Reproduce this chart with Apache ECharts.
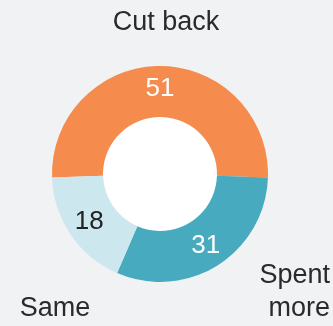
<!DOCTYPE html>
<html><head><meta charset="utf-8">
<script src="https://cdn.jsdelivr.net/npm/echarts@6/dist/echarts.min.js"></script>
<style>html,body{margin:0;padding:0;background:#f1f2f4;}#c{width:333px;height:326px;}</style>
</head><body><div id="c"></div>
<script>
const categories = ["Cut back", "Spent more", "Same"];
const values = [51, 31, 18];
const sliceColors = ["#f58b4c", "#47aabe", "#cde7ef"];
const valueTextColors = ["#ffffff", "#ffffff", "#222222"];
const nameLabelPos = [
  {x: 166, y: 23, align: "center", text: "Cut back"},
  {x: 330, y: 292, align: "right", text: "Spent\nmore"},
  {x: 55, y: 309, align: "center", text: "Same"}
];
const FONT = "Liberation Sans, Arial, sans-serif";
const total = values.reduce((a, b) => a + b, 0);
const startAngle = 90 + (values[0] / total) * 360 / 2;
const center = [160, 174];

const chart = echarts.init(document.getElementById("c"), null, {renderer: "canvas"});
chart.setOption({
  backgroundColor: "#f1f2f4",
  animation: false,
  series: [
    {
      type: "pie", center: center, radius: [0, 57], silent: true,
      label: {show: false}, labelLine: {show: false},
      data: [{value: 1, itemStyle: {color: "#ffffff"}}]
    },
    {
      type: "pie", center: center, radius: [57, 108], startAngle: startAngle, clockwise: true,
      silent: true,
      itemStyle: {borderWidth: 0},
      label: {show: true, position: "inside", fontSize: 26, fontFamily: FONT,
        formatter: p => String(p.value)},
      labelLine: {show: false},
      data: categories.map((n, i) => ({name: n, value: values[i],
        itemStyle: {color: sliceColors[i]},
        label: {color: valueTextColors[i]}}))
    },
    {
      type: "pie", center: center, radius: [57, 108], startAngle: startAngle, clockwise: true,
      silent: true,
      itemStyle: {color: "transparent", borderWidth: 0},
      label: {show: true, position: "outside", fontSize: 27, fontFamily: FONT, color: "#2a2a2a",
        lineHeight: 33, overflow: "none", width: 200,
        formatter: p => nameLabelPos[p.dataIndex].text},
      labelLine: {show: false},
      labelLayout: p => ({x: nameLabelPos[p.dataIndex].x, y: nameLabelPos[p.dataIndex].y,
        align: nameLabelPos[p.dataIndex].align, verticalAlign: "middle"}),
      data: categories.map((n, i) => ({name: n, value: values[i]}))
    }
  ]
});
</script></body></html>
